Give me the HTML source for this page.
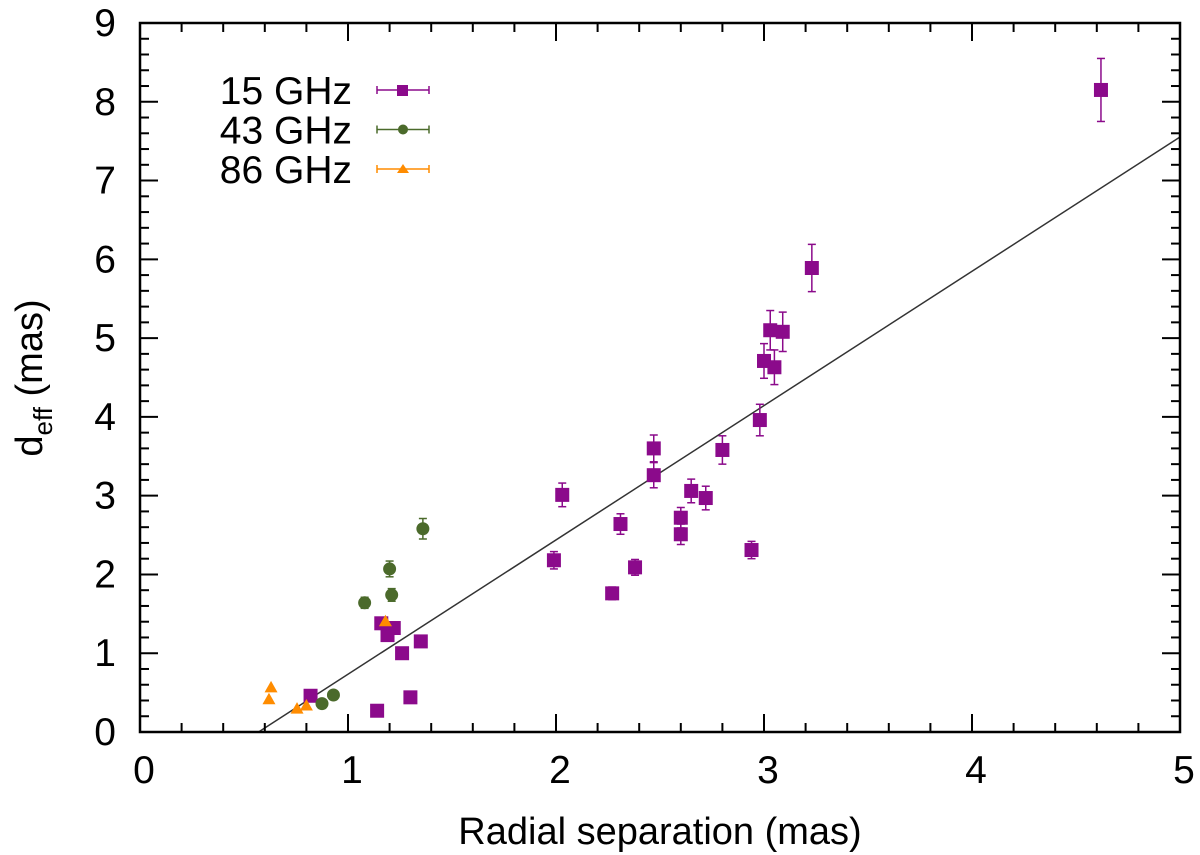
<!DOCTYPE html>
<html><head><meta charset="utf-8"><style>
body{margin:0;background:#fff}
svg{display:block;font-family:"Liberation Sans",sans-serif}
</style></head><body>
<svg id="chart" width="1200" height="855"></svg>
<script>
const x15=[4.62,3.23,3.03,3.09,3.0,3.05,2.98,2.80,2.72,2.94,2.65,2.6,2.6,2.47,2.47,2.31,2.38,2.27,2.03,1.99,0.82,1.14,1.30,1.35,1.26,1.19,1.22,1.16];
const y15=[8.15,5.89,5.10,5.08,4.71,4.63,3.96,3.58,2.97,2.31,3.06,2.72,2.51,3.6,3.26,2.64,2.09,1.76,3.01,2.18,0.46,0.27,0.44,1.15,1.0,1.23,1.32,1.38];
const e15=[0.4,0.3,0.25,0.25,0.22,0.22,0.2,0.18,0.15,0.11,0.15,0.13,0.13,0.17,0.16,0.13,0.1,0.08,0.15,0.11,0.03,0.02,0.02,0.05,0.04,0.05,0.05,0.06];
const x43=[1.36,1.20,1.21,1.08,0.93,0.875];
const y43=[2.58,2.07,1.74,1.64,0.47,0.36];
const e43=[0.13,0.1,0.08,0.07,0.02,0.02];
const x86=[0.63,0.62,0.755,0.80,1.18];
const y86=[0.56,0.41,0.29,0.33,1.40];
const xTicks=[0,1,2,3,4,5];
const yTicks=[0,1,2,3,4,5,6,7,8,9];
const fitX0=0.57, fitSlope=1.705;

const NS="http://www.w3.org/2000/svg";
const svg=document.getElementById('chart');
const L=140,R=1180,T=23,B=732;
const sx=v=>L+(v-0)/5*(R-L);
const sy=v=>B-(v-0)/9*(B-T);
function el(t,a,p){const e=document.createElementNS(NS,t);for(const k in a)e.setAttribute(k,a[k]);(p||svg).appendChild(e);return e;}

const fitG=el('g',{});


el('line',{x1:sx(fitX0),y1:sy(0),x2:sx(5),y2:sy(fitSlope*(5-fitX0)),stroke:'#333',"stroke-width":1.5},fitG);

const tg=el('g',{stroke:'#000',"stroke-width":2});
for(let i=0;i<=25;i++){const v=i*0.2,x=sx(v),len=(i%5==0)?18:9;
 el('line',{x1:x,y1:B,x2:x,y2:B-len},tg);el('line',{x1:x,y1:T,x2:x,y2:T+len},tg);}
for(let i=0;i<=45;i++){const v=i*0.2,y=sy(v),len=(i%5==0)?18:9;
 el('line',{x1:L,y1:y,x2:L+len,y2:y},tg);el('line',{x1:R,y1:y,x2:R-len,y2:y},tg);}
xTicks.forEach(v=>{const t=el('text',{x:sx(v)+4,y:783,"font-size":39,"text-anchor":"middle"});t.textContent=v;
 
 });
yTicks.forEach(v=>{const t=el('text',{x:116,y:sy(v)+13,"font-size":39,"text-anchor":"end"});t.textContent=v;
 
 });

function errbar(g,x,y,e,c){const X=sx(x);el('line',{x1:X,y1:sy(y-e),x2:X,y2:sy(y+e),stroke:c,"stroke-width":1.5},g);
 el('line',{x1:X-4,y1:sy(y-e),x2:X+4,y2:sy(y-e),stroke:c,"stroke-width":1.5},g);
 el('line',{x1:X-4,y1:sy(y+e),x2:X+4,y2:sy(y+e),stroke:c,"stroke-width":1.5},g);}
const g15=el('g',{});


x15.forEach((x,i)=>{errbar(g15,x,y15[i],e15[i],'#8b0a8b');
 const r=el('rect',{x:sx(x)-7,y:sy(y15[i])-7,width:14,height:14,fill:'#8b0a8b'},g15);
 
 });
const g43=el('g',{});


x43.forEach((x,i)=>{errbar(g43,x,y43[i],e43[i],'#4b6a2b');
 const c=el('circle',{cx:sx(x),cy:sy(y43[i]),r:6.5,fill:'#4b6a2b'},g43);
 
 });
const g86=el('g',{});


x86.forEach((x,i)=>{const X=sx(x),Y=sy(y86[i]);
 const p=el('polygon',{points:`${X},${Y-7} ${X-6.5},${Y+4.5} ${X+6.5},${Y+4.5}`,fill:'#ff8c00'},g86);
 
 });

el('rect',{x:L,y:T,width:R-L,height:B-T,fill:'none',stroke:'#000',"stroke-width":2.5});

const leg=[['15 GHz','#8b0a8b','sq'],['43 GHz','#4b6a2b','ci'],['86 GHz','#ff8c00','tr']];
leg.forEach((d,i)=>{const y=90+i*39.5;const g=el('g',{});
 
 
 const t=el('text',{x:352,y:y+14,"font-size":39,"text-anchor":"end"},g);t.textContent=d[0];
 el('line',{x1:377,y1:y,x2:429,y2:y,stroke:d[1],"stroke-width":1.5},g);
 el('line',{x1:377,y1:y-4,x2:377,y2:y+4,stroke:d[1],"stroke-width":1.5},g);
 el('line',{x1:429,y1:y-4,x2:429,y2:y+4,stroke:d[1],"stroke-width":1.5},g);
 if(d[2]=='sq')el('rect',{x:397,y:y-5,width:11,height:11,fill:d[1]},g);
 else if(d[2]=='ci')el('circle',{cx:403,cy:y,r:5,fill:d[1]},g);
 else el('polygon',{points:`403,${y-5} 397,${y+4} 409,${y+4}`,fill:d[1]},g);});

const xt=el('text',{x:660,y:844,"font-size":38,"text-anchor":"middle"});xt.textContent='Radial separation (mas)';


const yt=el('text',{transform:'translate(42,378) rotate(-90)',"font-size":38,"text-anchor":"middle"});
yt.innerHTML='d<tspan font-size="26" dy="10">eff</tspan><tspan dy="-10"> (mas)</tspan>';


</script>
</body></html>
